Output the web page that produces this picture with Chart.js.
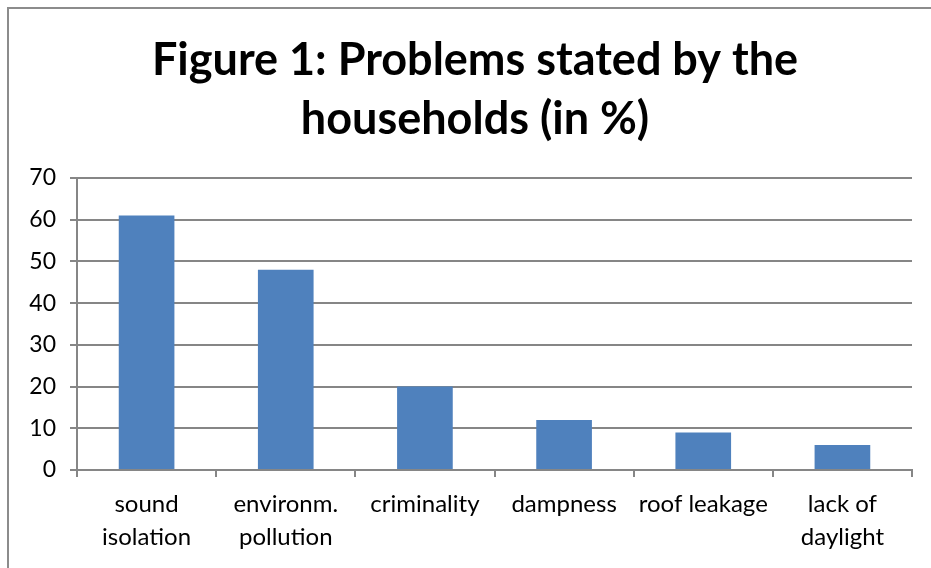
<!DOCTYPE html>
<html>
<head>
<meta charset="utf-8">
<script src="https://cdn.jsdelivr.net/npm/chart.js@4/dist/chart.umd.min.js"></script>
<style>
  html, body { margin: 0; padding: 0; background: #fff; overflow: hidden; }
  #wrap { position: absolute; left: 0; top: 0; width: 931px; height: 568px; }
</style>
</head>
<body>
<div id="wrap"><canvas id="c" width="931" height="568"></canvas></div>
<script>
const categories = [["sound", "isolation"], ["environm.", "pollution"], "criminality", "dampness", "roof leakage", ["lack of", "daylight"]];
const values = [61, 48, 20, 12, 9, 6];
const titleLines = ["Figure 1: Problems stated by the", "households (in %)"];
const yTicks = [0, 10, 20, 30, 40, 50, 60, 70];

const FONT = "Lato, 'Open Sans', 'Liberation Sans', sans-serif";
const GRID = "#868686";

const framePlugin = {
  id: 'frame',
  afterDraw(chart) {
    const ctx = chart.ctx;
    ctx.save();
    ctx.strokeStyle = "#8c8c8c";
    ctx.lineWidth = 2;
    ctx.beginPath();
    ctx.moveTo(8, 600);
    ctx.lineTo(8, 8);
    ctx.lineTo(931, 8);
    ctx.stroke();
    ctx.restore();
  }
};

new Chart(document.getElementById('c'), {
  type: 'bar',
  data: {
    labels: categories,
    datasets: [{
      data: values,
      backgroundColor: '#4F81BD',
      borderWidth: 0,
      categoryPercentage: 1.0,
      barPercentage: 0.4
    }]
  },
  options: {
    responsive: false,
    animation: false,
    devicePixelRatio: 1,
    layout: { padding: { left: 19, right: 0, top: 0, bottom: 0 } },
    plugins: {
      legend: { display: false },
      tooltip: { enabled: false },
      title: {
        display: true,
        text: titleLines,
        color: '#000',
        font: { family: FONT, size: 45, weight: 'bold', lineHeight: 1.333 },
        padding: { top: 30, bottom: 28 }
      }
    },
    scales: {
      x: {
        grid: { display: true, drawOnChartArea: false, drawTicks: true, tickLength: 7, offset: true, color: GRID, lineWidth: 2 },
        border: { display: true, color: GRID, width: 2 },
        ticks: { color: '#000', font: { family: FONT, size: 24, lineHeight: 1.375 }, padding: 11, maxRotation: 0, autoSkip: false },
        afterFit(scale) { scale.height = 98; }
      },
      y: {
        min: 0,
        max: 70,
        afterBuildTicks(scale) { scale.ticks = yTicks.map(v => ({ value: v })); },
        grid: { color: GRID, lineWidth: 2, drawTicks: true, tickLength: 7 },
        border: { display: true, color: GRID, width: 2 },
        ticks: { color: '#000', font: { family: FONT, size: 23 }, padding: 14 },
        afterFit(scale) { scale.width = 58; }
      },
      yR: {
        type: 'linear',
        position: 'right',
        display: true,
        grid: { display: false, drawTicks: false },
        border: { display: false },
        ticks: { display: false },
        afterFit(scale) { scale.width = 19; }
      }
    }
  },
  plugins: [framePlugin]
});
</script>
</body>
</html>
